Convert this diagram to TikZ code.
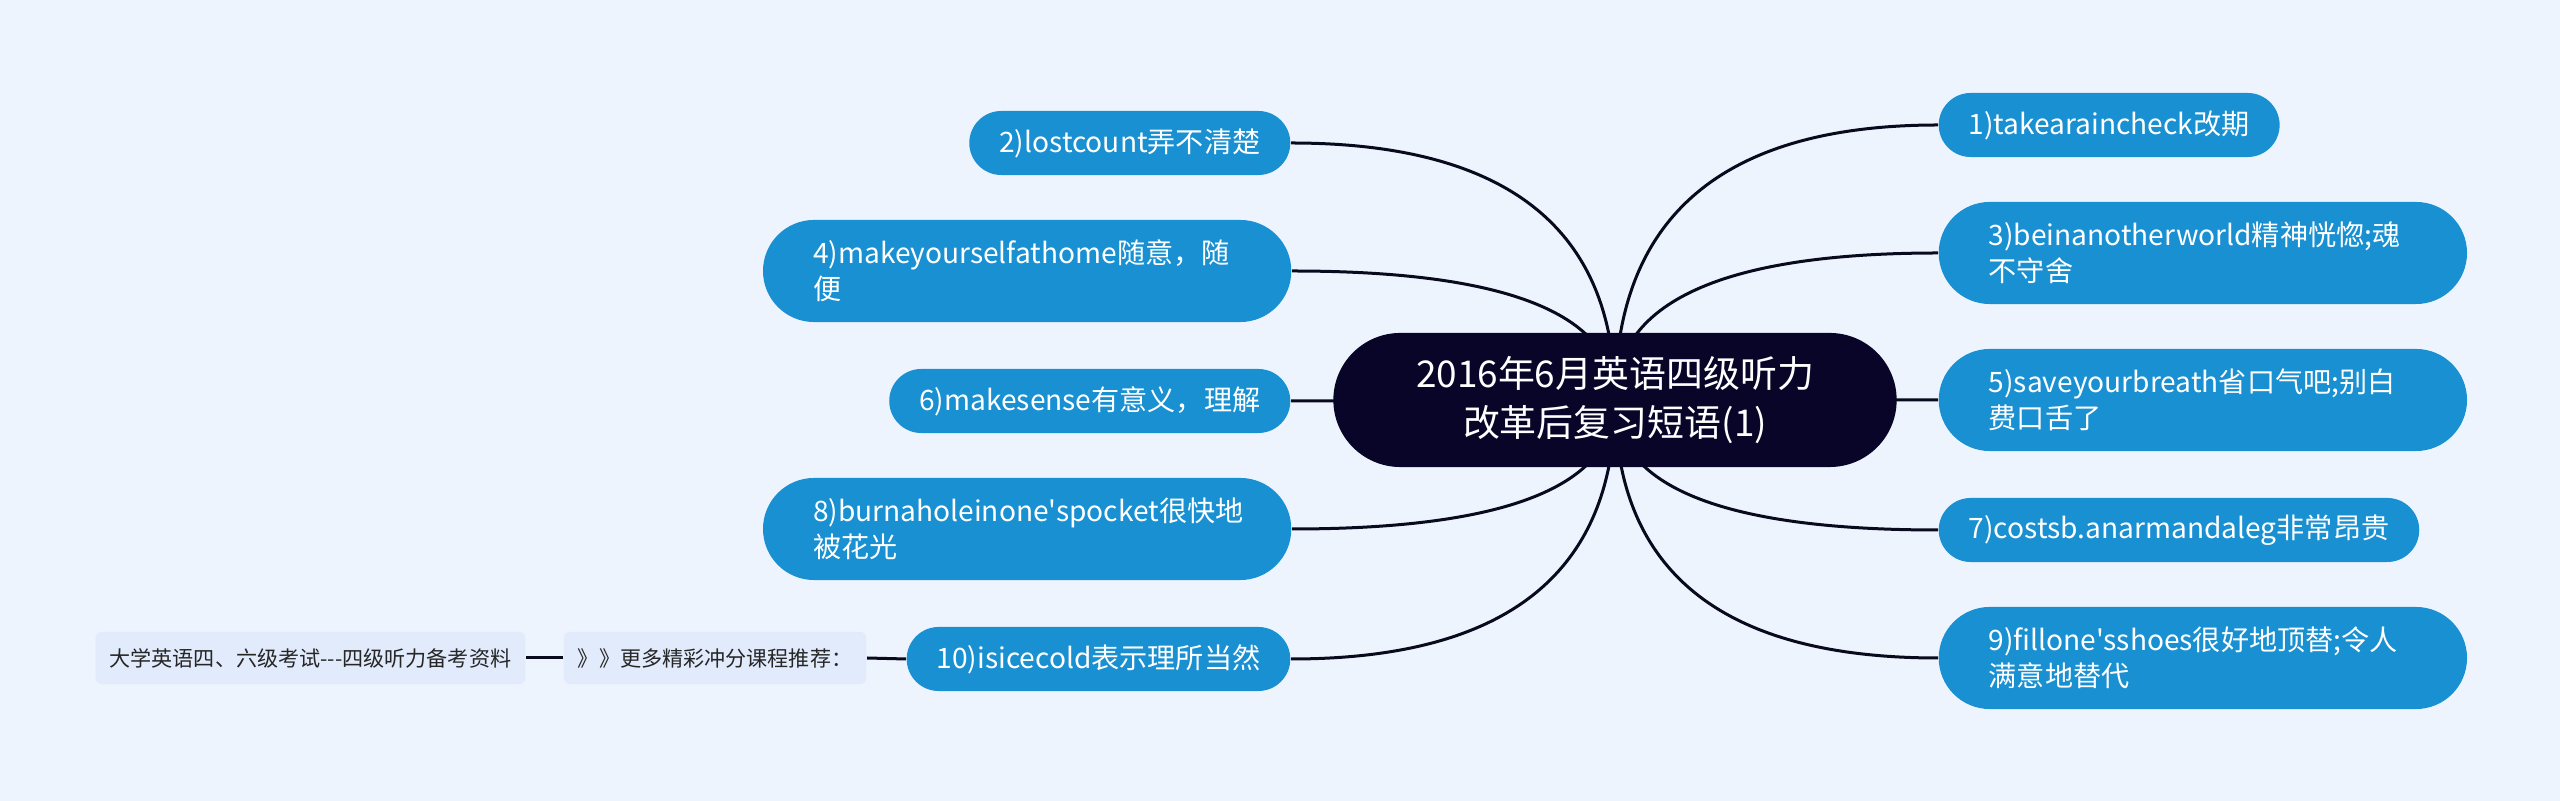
\documentclass[tikz,border=0pt]{standalone}
\usepackage{fontspec}
\setmainfont{Noto Sans CJK SC}[Ligatures=TeXOff]
\usetikzlibrary{calc,backgrounds}
\definecolor{bgblue}{RGB}{238,244,254}
\definecolor{topicblue}{RGB}{24,144,210}
\definecolor{rootnavy}{RGB}{9,5,40}
\definecolor{noteblue}{RGB}{225,235,252}
\definecolor{linecol}{RGB}{10,10,30}

\begin{document}
\begin{tikzpicture}[x=0.01cm, y=-0.01cm,
    topic/.style={fill=topicblue, text=white, font=\fontsize{8}{10.2}\selectfont, rounded corners=0.32cm, minimum height=0.64cm, inner xsep=0.3cm, inner ysep=0pt},
    topictwo/.style={topic, text width=4.28cm, align=left, inner xsep=0.5cm, rounded corners=0.51cm, minimum height=1.02cm},
    note/.style={fill=noteblue, text=black!85, font=\fontsize{6}{7}\selectfont, rounded corners=0.06cm, minimum height=0.52cm, inner xsep=0.14cm, inner ysep=0pt},
    branch/.style={draw=linecol, line width=0.03cm}]
        \useasboundingbox (0,0) rectangle (2560,801);
        \node[fill=rootnavy, text=white, font=\fontsize{10.5}{13.9}\selectfont, align=center, rounded corners=0.67cm, minimum width=5.63cm, minimum height=1.34cm] (root) at (1615,400) {2016年6月英语四级听力\\改革后复习短语(1)};
        \node[topic, anchor=west] (t1) at (1938,125) {1)takearaincheck改期};
        \node[topictwo, anchor=west] (t3) at (1938,253) {3)beinanotherworld精神恍惚;魂\\不守舍};
        \node[topictwo, anchor=west] (t5) at (1938,400) {5)saveyourbreath省口气吧;别白\\费口舌了};
        \node[topic, anchor=west] (t7) at (1938,530) {7)costsb.anarmandaleg非常昂贵};
        \node[topictwo, anchor=west] (t9) at (1938,658) {9)fillone'sshoes很好地顶替;令人\\满意地替代};
        \node[topic, anchor=east] (t2) at (1291,143) {2)lostcount弄不清楚};
        \node[topictwo, anchor=east] (t4) at (1292,271) {4)makeyourselfathome随意，随\\便};
        \node[topic, anchor=east] (t6) at (1291,401) {6)makesense有意义，理解};
        \node[topictwo, anchor=east] (t8) at (1292,529) {8)burnaholeinone'spocket很快地\\被花光};
        \node[topic, anchor=east] (t10) at (1291,659) {10)isicecold表示理所当然};
        \node[note, anchor=east] (rec) at (867,658) {》》更多精彩冲分课程推荐：};
        \node[note, anchor=east] (src) at (526,658) {大学英语四、六级考试---四级听力备考资料};
        \begin{pgfonlayer}{background}
            \fill[bgblue] (0,0) rectangle (2560,801);
            \foreach \c/\a in {t1/west, t3/west, t5/west, t7/west, t9/west, t2/east, t4/east, t6/east, t8/east, t10/east}
                \draw[branch] (root.center) .. controls ($(root.center)!2/3!(root.center |- \c.\a)$) and ($(\c.\a)!2/3!(root.center |- \c.\a)$) .. (\c.\a);
            \draw[branch] (t10.west) -- (rec.east);
            \draw[branch] (rec.west) -- (src.east);
        \end{pgfonlayer}
    \end{tikzpicture}
\end{document}
